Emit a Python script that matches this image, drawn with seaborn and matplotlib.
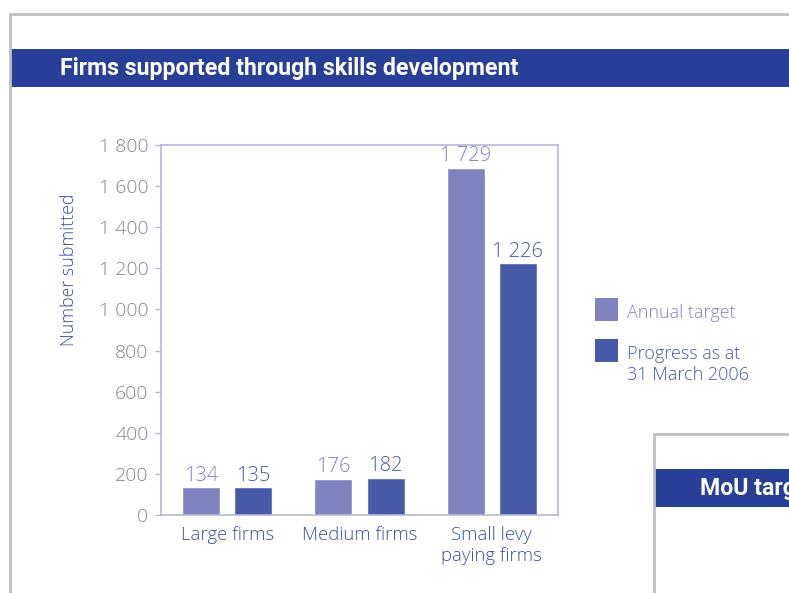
import matplotlib
matplotlib.use("Agg")
import matplotlib.pyplot as plt
import seaborn as sns
import pandas as pd
from matplotlib.patches import Rectangle
from matplotlib.lines import Line2D
from matplotlib.ticker import FuncFormatter

categories = ["Large firms", "Medium firms", "Small levy\npaying firms"]
# bar heights as drawn in the picture
annual_target = [134, 176, 1690]
progress = [135, 182, 1226]
# value labels printed above the bars
annual_labels = ["134", "176", "1 729"]
progress_labels = ["135", "182", "1 226"]
series_names = ["Annual target", "Progress as at\n31 March 2006"]
yticks = [0, 200, 400, 600, 800, 1000, 1200, 1400, 1600, 1800]

C_ANNUAL = "#8083C0"
C_PROG = "#465AA8"
C_BAR = "#283F98"
C_BORDER = "#BCC0C4"
C_FRAME = "#B4B6DA"
C_TICK = "#7E868E"
C_TEXT = "#3A4EA2"

sns.set_theme(style="white")
plt.rcParams["font.family"] = ["Open Sans", "DejaVu Sans"]
TITLE_FAMILY = ["Roboto", "DejaVu Sans"]

W, H = 789, 593
fig = plt.figure(figsize=(W / 100, H / 100), dpi=100)

def fx(x):
    return x / W

def fy(y):
    return 1 - y / H

# page border
fig.add_artist(Line2D([fx(10), fx(789)], [fy(14), fy(14)], color=C_BORDER, lw=2))
fig.add_artist(Line2D([fx(10), fx(10)], [fy(14), fy(593)], color=C_BORDER, lw=2))
fig.add_artist(Rectangle((fx(11), fy(87)), fx(789 - 11), (87 - 49) / H,
                         transform=fig.transFigure, color=C_BAR, lw=0))
fig.text(fx(60), fy(68), "Firms supported through skills development",
         color="white", fontsize=16.7, fontweight="bold",
         family=TITLE_FAMILY, va="center", ha="left")

# second box
fig.add_artist(Line2D([fx(654), fx(789)], [fy(434), fy(434)], color=C_BORDER, lw=2))
fig.add_artist(Line2D([fx(654), fx(654)], [fy(434), fy(593)], color=C_BORDER, lw=2))
fig.add_artist(Rectangle((fx(655), fy(507)), fx(789 - 655), (507 - 469) / H,
                         transform=fig.transFigure, color=C_BAR, lw=0))
fig.text(fx(700), fy(488), "MoU targets", color="white", fontsize=16.7,
         fontweight="bold", family=TITLE_FAMILY, va="center", ha="left")

# chart
ax = fig.add_axes([fx(161), fy(515), fx(558 - 161), (515 - 145) / H])
df = pd.DataFrame({
    "category": categories * 2,
    "value": annual_target + progress,
    "series": [series_names[0]] * 3 + [series_names[1]] * 3,
})
sns.barplot(data=df, x="category", y="value", hue="series",
            palette=[C_ANNUAL, C_PROG], width=0.788, gap=0.27,
            saturation=1, legend=False, ax=ax)

for cont, col, labs in zip(ax.containers, [C_ANNUAL, C_PROG],
                           [annual_labels, progress_labels]):
    ax.bar_label(cont, labels=labs, color=col, fontsize=14.5, padding=1,
                 fontweight="light")

fmt = lambda v: f"{v:,.0f}".replace(",", " ")
ax.set_xlim(-0.5, 2.5)
ax.set_ylim(0, 1800)
ax.set_yticks(yticks)
ax.yaxis.set_major_formatter(FuncFormatter(lambda v, p: fmt(v)))
ax.tick_params(axis="y", left=True, length=4, width=1, color=C_FRAME,
               labelcolor=C_TICK, labelsize=14, pad=5)
ax.tick_params(axis="x", length=0, labelcolor=C_TEXT, labelsize=13.3, pad=8)
for lbl in ax.get_yticklabels() + ax.get_xticklabels():
    lbl.set_fontweight("light")
for s in ax.spines.values():
    s.set_color(C_FRAME)
    s.set_linewidth(1.2)
ax.set_xlabel("")
ax.set_ylabel("Number submitted", color=C_TEXT, fontsize=12.8, fontweight="light")
ax.yaxis.set_label_coords((78 - 161) / 397, (515 - 270) / 370)

# legend
for (name, col, ytop) in [(series_names[0], C_ANNUAL, 301), (series_names[1], C_PROG, 342)]:
    fig.add_artist(Rectangle((fx(595), fy(ytop - 3 + 23)), fx(23), 23 / H,
                             transform=fig.transFigure, color=col, lw=0))
    fig.text(fx(627), fy(ytop + 3), name, color=col, fontsize=13,
             fontweight="light", va="top", ha="left", linespacing=1.25)

fig.savefig("out.png", dpi=100)
